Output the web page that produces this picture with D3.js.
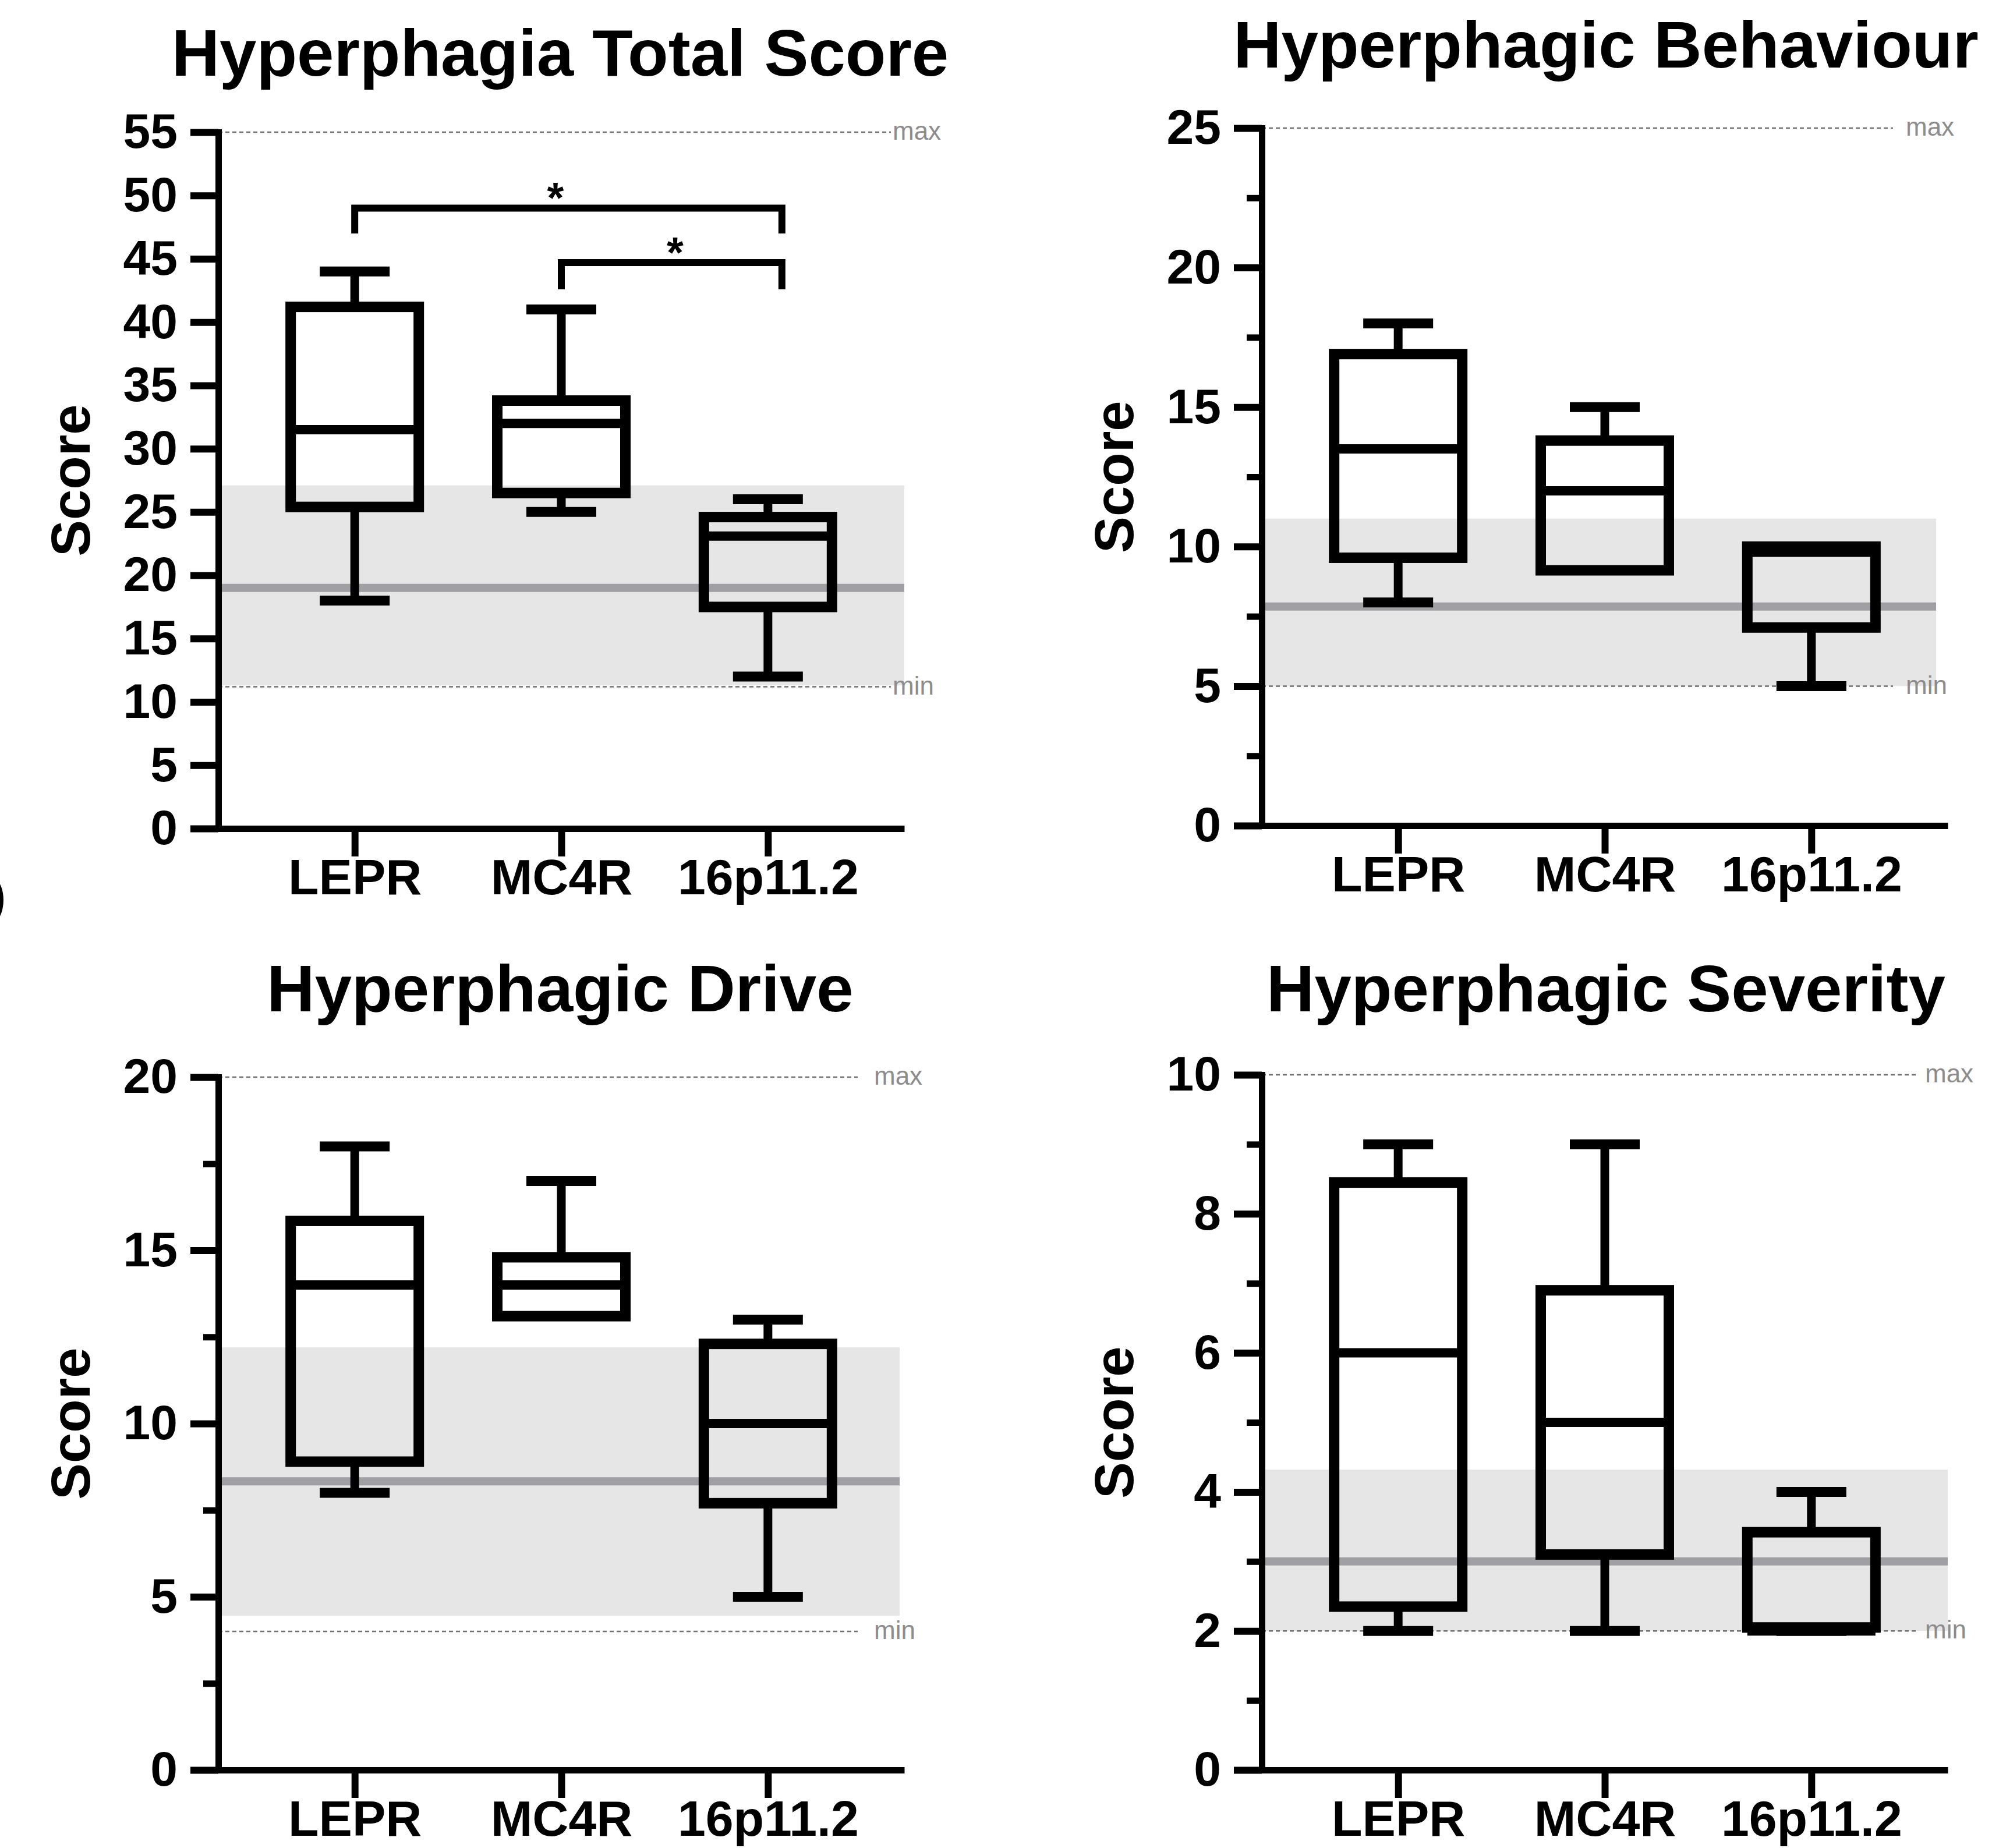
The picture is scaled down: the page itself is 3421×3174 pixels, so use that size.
<!DOCTYPE html>
<html>
<head>
<meta charset="utf-8">
<script src="https://cdn.jsdelivr.net/npm/d3@7"></script>
<style>
  html, body { margin: 0; padding: 0; background: #fff; }
  svg { display: block; font-family: "Liberation Sans", Arial, Helvetica, sans-serif; }
</style>
</head>
<body>
<svg id="chart" width="3421" height="3174"></svg>
<script>
// ---------------- DATA ----------------
const categories = ["LEPR", "MC4R", "16p11.2"];

// Hyperphagia Total Score
const totalMin    = [18, 25, 12];
const totalQ1     = [25.4, 26.5, 17.5];
const totalMedian = [31.5, 32.0, 23.1];
const totalQ3     = [41.2, 33.8, 24.6];
const totalMax    = [44, 41, 26];
const totalRef    = { mean: 19.0, bandLow: 11.3, bandHigh: 27.1, scaleMin: 11.2, scaleMax: 55 };
const totalTicks  = [0, 5, 10, 15, 20, 25, 30, 35, 40, 45, 50, 55];

// Hyperphagic Behaviour
const behavMin    = [8, 9.15, 5];
const behavQ1     = [9.6, 9.15, 7.1];
const behavMedian = [13.5, 12.0, 9.8];
const behavQ3     = [16.9, 13.8, 10.0];
const behavMax    = [18, 15, 10];
const behavRef    = { mean: 7.85, bandLow: 5.0, bandHigh: 11.0, scaleMin: 5, scaleMax: 25 };
const behavTicks  = [0, 5, 10, 15, 20, 25];
const behavMinor  = [2.5, 7.5, 12.5, 17.5, 22.5];

// Hyperphagic Drive
const driveMin    = [8, 13.1, 5];
const driveQ1     = [8.9, 13.1, 7.7];
const driveMedian = [14.0, 14.0, 10.0];
const driveQ3     = [15.85, 14.8, 12.3];
const driveMax    = [18, 17, 13];
const driveRef    = { mean: 8.33, bandLow: 4.45, bandHigh: 12.2, scaleMin: 4, scaleMax: 20 };
const driveTicks  = [0, 5, 10, 15, 20];
const driveMinor  = [2.5, 7.5, 12.5, 17.5];

// Hyperphagic Severity
const sevMin    = [2, 2, 2];
const sevQ1     = [2.35, 3.1, 2.05];
const sevMedian = [6.0, 5.0, 2.0];
const sevQ3     = [8.45, 6.9, 3.42];
const sevMax    = [9, 9, 4];
const sevRef    = { mean: 3.0, bandLow: 2.0, bandHigh: 4.32, scaleMin: 2, scaleMax: 10 };
const sevTicks  = [0, 2, 4, 6, 8, 10];
const sevMinor  = [1, 3, 5, 7, 9];

// significance brackets (Total score panel)
const sigFrom  = [0, 1];
const sigTo    = [2, 2];
const sigY     = [49.0, 44.7];
const sigTipY  = [47.0, 42.6];
const sigLabel = ["*", "*"];

// ---------------- LAYOUT ----------------
const panels = [
  { title: "Hyperphagia Total Score", titleY: 130, axisX: 375, axisEnd: 1553, yTop: 227, yBot: 1423, domMax: 55,
    mn: totalMin, q1: totalQ1, md: totalMedian, q3: totalQ3, mx: totalMax, ref: totalRef,
    ticks: totalTicks, minor: [], bandEnd: 1553, dashEnd: 1530, labX: 1533, sig: true },
  { title: "Hyperphagic Behaviour", titleY: 116, axisX: 2167, axisEnd: 3345, yTop: 220, yBot: 1418, domMax: 25,
    mn: behavMin, q1: behavQ1, md: behavMedian, q3: behavQ3, mx: behavMax, ref: behavRef,
    ticks: behavTicks, minor: behavMinor, bandEnd: 3325, dashEnd: 3251, labX: 3273, sig: false },
  { title: "Hyperphagic Drive", titleY: 1737, axisX: 375, axisEnd: 1553, yTop: 1850, yBot: 3040, domMax: 20,
    mn: driveMin, q1: driveQ1, md: driveMedian, q3: driveQ3, mx: driveMax, ref: driveRef,
    ticks: driveTicks, minor: driveMinor, bandEnd: 1545, dashEnd: 1473, labX: 1501, sig: false },
  { title: "Hyperphagic Severity", titleY: 1737, axisX: 2167, axisEnd: 3345, yTop: 1846, yBot: 3040, domMax: 10,
    mn: sevMin, q1: sevQ1, md: sevMedian, q3: sevQ3, mx: sevMax, ref: sevRef,
    ticks: sevTicks, minor: sevMinor, bandEnd: 3345, dashEnd: 3290, labX: 3306, sig: false }
];

const svg = d3.select("#chart");
const BOX_HALF = 110, CAP_HALF = 60;

panels.forEach(p => {
  const g = svg.append("g");
  const x = d3.scalePoint().domain(categories).range([p.axisX, p.axisEnd]).padding(0.66);
  const y = d3.scaleLinear().domain([0, p.domMax]).range([p.yBot, p.yTop]);

  // reference band
  g.append("rect")
    .attr("x", p.axisX).attr("width", p.bandEnd - p.axisX)
    .attr("y", y(p.ref.bandHigh)).attr("height", y(p.ref.bandLow) - y(p.ref.bandHigh))
    .attr("fill", "#e6e6e6");
  // mean line
  g.append("line")
    .attr("x1", p.axisX).attr("x2", p.bandEnd)
    .attr("y1", y(p.ref.mean)).attr("y2", y(p.ref.mean))
    .attr("stroke", "#a0a0a4").attr("stroke-width", 14);
  // min / max dashed lines
  [[p.ref.scaleMax, "max"], [p.ref.scaleMin, "min"]].forEach(([v, lab]) => {
    g.append("line")
      .attr("x1", p.axisX).attr("x2", p.dashEnd)
      .attr("y1", y(v)).attr("y2", y(v))
      .attr("stroke", "#707070").attr("stroke-width", 2.5)
      .attr("stroke-dasharray", "7,5");
    g.append("text")
      .attr("x", p.labX).attr("y", y(v)).attr("dy", "0.3em")
      .attr("font-size", 44).attr("fill", "#8c8c8c")
      .text(lab);
  });

  // boxes
  categories.forEach((c, i) => {
    const cx = x(c);
    const bg = g.append("g").attr("stroke", "#000").attr("fill", "none");
    // whiskers
    bg.append("line").attr("stroke-width", 15).attr("x1", cx).attr("x2", cx).attr("y1", y(p.q3[i])).attr("y2", y(p.mx[i]));
    bg.append("line").attr("stroke-width", 15).attr("x1", cx).attr("x2", cx).attr("y1", y(p.q1[i])).attr("y2", y(p.mn[i]));
    bg.append("line").attr("stroke-width", 17).attr("x1", cx - CAP_HALF).attr("x2", cx + CAP_HALF).attr("y1", y(p.mx[i])).attr("y2", y(p.mx[i]));
    bg.append("line").attr("stroke-width", 17).attr("x1", cx - CAP_HALF).attr("x2", cx + CAP_HALF).attr("y1", y(p.mn[i])).attr("y2", y(p.mn[i]));
    // box
    bg.append("rect").attr("stroke-width", 18)
      .attr("x", cx - BOX_HALF).attr("width", 2 * BOX_HALF)
      .attr("y", y(p.q3[i])).attr("height", y(p.q1[i]) - y(p.q3[i]));
    // median
    bg.append("line").attr("stroke-width", 16).attr("x1", cx - BOX_HALF).attr("x2", cx + BOX_HALF)
      .attr("y1", y(p.md[i])).attr("y2", y(p.md[i]));
  });

  // significance
  if (p.sig) {
    sigFrom.forEach((f, k) => {
      const x1 = x(categories[f]), x2 = x(categories[sigTo[k]]) + 24;
      g.append("path")
        .attr("d", `M${x1},${y(sigTipY[k])}V${y(sigY[k])}H${x2}V${y(sigTipY[k])}`)
        .attr("fill", "none").attr("stroke", "#000").attr("stroke-width", 12);
      g.append("text")
        .attr("x", (x1 + x2) / 2 - (k === 0 ? 22 : -6)).attr("y", y(sigY[k]) + 8)
        .attr("text-anchor", "middle").attr("font-size", 74).attr("font-weight", "bold")
        .text(sigLabel[k]);
    });
  }

  // y axis
  const ya = g.append("g").attr("transform", `translate(${p.axisX},0)`)
    .call(d3.axisLeft(y).tickValues(p.ticks).tickFormat(d3.format("d")).tickSize(48).tickSizeOuter(0).tickPadding(22));
  ya.select(".domain").attr("stroke-width", 11).attr("stroke-linecap", "square");
  ya.selectAll(".tick line").attr("stroke-width", 12);
  ya.selectAll(".tick text").attr("font-size", 84).attr("font-weight", "bold").attr("font-family", null).attr("fill", "#000");
  if (p.minor.length) {
    const ym = g.append("g").attr("transform", `translate(${p.axisX},0)`)
      .call(d3.axisLeft(y).tickValues(p.minor).tickFormat("").tickSize(26).tickSizeOuter(0));
    ym.select(".domain").remove();
    ym.selectAll(".tick line").attr("stroke-width", 11);
  }

  // x axis
  const xa = g.append("g").attr("transform", `translate(0,${p.yBot})`)
    .call(d3.axisBottom(x).tickSize(48).tickSizeOuter(0).tickPadding(4));
  xa.select(".domain").attr("stroke-width", 11);
  xa.selectAll(".tick line").attr("stroke-width", 12);
  xa.selectAll(".tick text").attr("font-size", 86).attr("font-weight", "bold").attr("font-family", null).attr("fill", "#000");

  // y label
  g.append("text")
    .attr("transform", `translate(${p.axisX - 255},${(p.yTop + p.yBot) / 2}) rotate(-90)`)
    .attr("text-anchor", "middle").attr("dy", "0.36em")
    .attr("font-size", 94).attr("font-weight", "bold")
    .text("Score");

  // title
  g.append("text")
    .attr("x", (p.axisX + p.axisEnd) / 2 + (p.axisX < 1000 ? -2 : 2)).attr("y", p.titleY)
    .attr("text-anchor", "middle").attr("font-size", 114).attr("font-weight", "bold")
    .text(p.title);
});

// clipped panel label fragment at left edge
svg.append("text").attr("x", -19).attr("y", 1570).attr("font-size", 92).text(")");
</script>
</body>
</html>
